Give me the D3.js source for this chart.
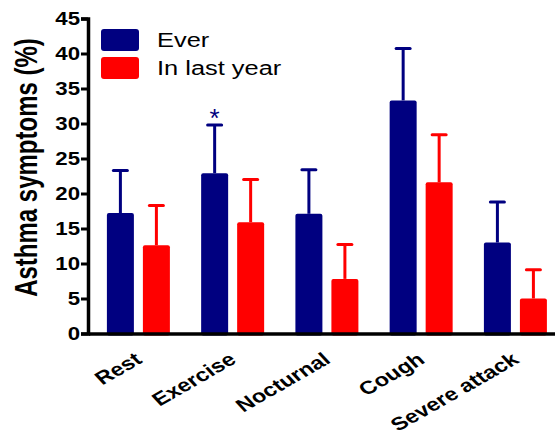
<!DOCTYPE html>
<html>
<head>
<meta charset="utf-8">
<script src="https://cdn.jsdelivr.net/npm/d3@7"></script>
<style>
  body { margin: 0; background: #fff; }
  svg { display: block; font-family: "Liberation Sans", Arial, sans-serif; }
</style>
</head>
<body>
<div id="chart"></div>
<script>
// data
const categories = ["Rest", "Exercise", "Nocturnal", "Cough", "Severe attack"];
const series = ["Ever", "In last year"];
const everValues = [17.2, 22.9, 17.1, 33.3, 13.0];
const everErrors = [23.3, 29.8, 23.4, 40.7, 18.8];
const lastYearValues = [12.6, 15.9, 7.8, 21.6, 5.0];
const lastYearErrors = [18.3, 22.0, 12.7, 28.4, 9.1];
const yTicks = [0, 5, 10, 15, 20, 25, 30, 35, 40, 45];
const starred = [{ category: "Exercise", series: "Ever" }];

const w = 555;
const h = 437;
const sx = 1.27; // the original text is stretched sideways

const colors = { "Ever": "#000080", "In last year": "#ff0000" };

const rows = [];
categories.forEach((c, i) => {
  rows.push({ category: c, series: "Ever", value: everValues[i], err: everErrors[i] });
  rows.push({ category: c, series: "In last year", value: lastYearValues[i], err: lastYearErrors[i] });
});

const svg = d3.select("#chart").append("svg").attr("width", w).attr("height", h);

// scales
const y = d3.scaleLinear().domain([0, 45]).range([333.5, 18.5]);
const x = d3.scaleBand().domain(categories).range([88, 555])
  .paddingInner(0.3316).paddingOuter(0.1432).align(0.7);
const xs = d3.scaleBand().domain(series).range([0, x.bandwidth()]).paddingInner(0.25);

// bars
const bars = svg.append("g");
bars.selectAll("rect")
  .data(rows)
  .enter()
  .append("rect")
  .attr("x", (d) => x(d.category) + xs(d.series))
  .attr("y", (d) => y(d.value))
  .attr("width", xs.bandwidth())
  .attr("height", (d) => y(0) - y(d.value) + 2)
  .attr("rx", 2)
  .attr("fill", (d) => colors[d.series]);

// error bars (upper only)
const err = svg.append("g");
err.selectAll("line.stem")
  .data(rows)
  .enter()
  .append("line")
  .attr("class", "stem")
  .attr("x1", (d) => x(d.category) + xs(d.series) + xs.bandwidth() / 2)
  .attr("x2", (d) => x(d.category) + xs(d.series) + xs.bandwidth() / 2)
  .attr("y1", (d) => y(d.value))
  .attr("y2", (d) => y(d.err))
  .attr("stroke", (d) => colors[d.series])
  .attr("stroke-width", 3);
err.selectAll("line.cap")
  .data(rows)
  .enter()
  .append("line")
  .attr("class", "cap")
  .attr("x1", (d) => x(d.category) + xs(d.series) + xs.bandwidth() / 2 - 7)
  .attr("x2", (d) => x(d.category) + xs(d.series) + xs.bandwidth() / 2 + 7)
  .attr("y1", (d) => y(d.err))
  .attr("y2", (d) => y(d.err))
  .attr("stroke", (d) => colors[d.series])
  .attr("stroke-width", 3)
  .attr("stroke-linecap", "round");

// significance star
svg.selectAll("text.star")
  .data(starred)
  .enter()
  .append("text")
  .attr("class", "star")
  .attr("x", (d) => x(d.category) + xs(d.series) + xs.bandwidth() / 2)
  .attr("y", (d) => y(rows.find((r) => r.category === d.category && r.series === d.series).err) + 2)
  .attr("text-anchor", "middle")
  .attr("font-size", 26)
  .attr("fill", "#000080")
  .text("*");

// y axis
const yAxis = d3.axisLeft(y).tickValues(yTicks).tickSize(7).tickPadding(0);
const gy = svg.append("g").attr("transform", "translate(88,0)").call(yAxis);
gy.select(".domain").attr("stroke", "#000").attr("stroke-width", 3.5);
gy.selectAll(".tick line").attr("stroke", "#000").attr("stroke-width", 3);
gy.selectAll(".tick text")
  .attr("x", -8 / sx)
  .attr("dy", "0.36em")
  .attr("transform", "scale(" + sx + ",1)")
  .attr("font-size", 17.5)
  .attr("font-weight", "bold")
  .attr("fill", "#000");

// x axis line
const xAxis = d3.axisBottom(x).tickSize(0).tickFormat("");
const gx = svg.append("g").attr("transform", "translate(0," + y(0) + ")").call(xAxis);
gx.select(".domain").attr("stroke", "#000").attr("stroke-width", 3.5);

// category labels
svg.append("g")
  .selectAll("text")
  .data(categories)
  .enter()
  .append("text")
  .attr("transform", (d) => "translate(" + (x(d) + x.bandwidth() / 2 + 5) + ",362) scale(" + sx + ",1) rotate(-36)")
  .attr("text-anchor", "end")
  .attr("font-size", 18.5)
  .attr("font-weight", "bold")
  .attr("fill", "#000")
  .text((d) => d);

// y axis title
svg.append("text")
  .attr("transform", "translate(37,167.5) scale(" + sx + ",1) rotate(-90)")
  .attr("text-anchor", "middle")
  .attr("font-size", 24)
  .attr("font-weight", "bold")
  .attr("fill", "#000")
  .text("Asthma symptoms (%)");

// legend
const legend = svg.append("g");
const legendRows = series.map((s, i) => ({ name: s, y: 29 + i * 28 }));
legend.selectAll("rect")
  .data(legendRows)
  .enter()
  .append("rect")
  .attr("x", 101)
  .attr("y", (d) => d.y)
  .attr("width", 38)
  .attr("height", 22)
  .attr("rx", 3)
  .attr("fill", (d) => colors[d.name]);
legend.selectAll("text")
  .data(legendRows)
  .enter()
  .append("text")
  .attr("transform", (d) => "translate(157," + (d.y + 18) + ") scale(" + sx + ",1)")
  .attr("font-size", 20)
  .attr("fill", "#000")
  .text((d) => d.name);
</script>
</body>
</html>
